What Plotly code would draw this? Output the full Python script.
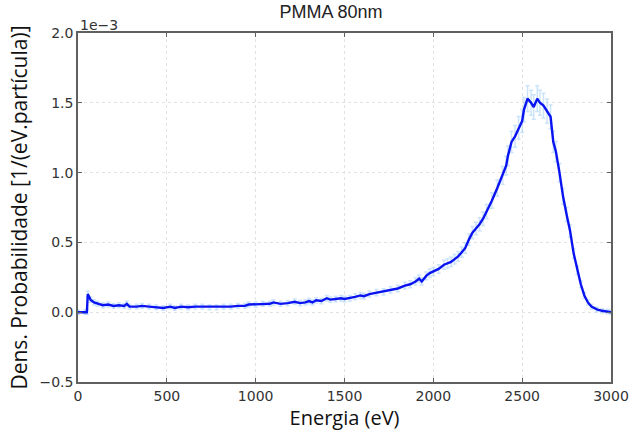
import plotly.graph_objects as go

energy = [0, 40, 50, 55, 70, 90, 110, 140, 170, 200, 230, 260, 275, 290, 330, 360, 400, 440, 480, 520,
          545, 580, 620, 660, 700, 740, 780, 820, 860, 900, 940, 960, 1000, 1040, 1080, 1100, 1140, 1180,
          1220, 1250, 1280, 1300, 1320, 1340, 1370, 1400, 1420, 1450, 1480, 1500, 1530, 1560, 1590, 1610,
          1640, 1680, 1720, 1760, 1800, 1840, 1870, 1900, 1920, 1935, 1960, 1980, 2000, 2030, 2060, 2080,
          2100, 2120, 2140, 2160, 2180, 2200, 2220, 2240, 2260, 2280, 2300, 2330, 2360, 2390, 2410, 2420,
          2440, 2460, 2480, 2500, 2510, 2530, 2550, 2565, 2585, 2600, 2620, 2640, 2660, 2675, 2690, 2710,
          2730, 2750, 2770, 2790, 2810, 2830, 2850, 2870, 2890, 2920, 2950, 2980, 3000]
density = [0.0, 0.0, 0.0, 0.13, 0.09, 0.07, 0.06, 0.05, 0.055, 0.045, 0.05, 0.045, 0.06, 0.04, 0.04, 0.045,
           0.04, 0.035, 0.03, 0.04, 0.03, 0.04, 0.035, 0.04, 0.04, 0.035, 0.035, 0.04, 0.04, 0.045, 0.045,
           0.055, 0.055, 0.06, 0.06, 0.07, 0.06, 0.065, 0.075, 0.065, 0.07, 0.08, 0.07, 0.085, 0.08, 0.10,
           0.09, 0.095, 0.10, 0.095, 0.10, 0.11, 0.12, 0.115, 0.13, 0.14, 0.145, 0.16, 0.17, 0.19, 0.20,
           0.22, 0.24, 0.22, 0.26, 0.28, 0.29, 0.31, 0.34, 0.35, 0.36, 0.38, 0.40, 0.43, 0.46, 0.52, 0.57,
           0.60, 0.63, 0.67, 0.72, 0.80, 0.89, 0.98, 1.05, 1.12, 1.22, 1.26, 1.32, 1.37, 1.45, 1.53, 1.50,
           1.47, 1.53, 1.50, 1.48, 1.44, 1.40, 1.22, 1.15, 1.00, 0.83, 0.70, 0.58, 0.42, 0.30, 0.20, 0.12,
           0.07, 0.04, 0.02, 0.01, 0.005, 0.0]

x_ticks = [0, 500, 1000, 1500, 2000, 2500, 3000]
y_ticks = [-0.5, 0.0, 0.5, 1.0, 1.5, 2.0]

# statistical uncertainty (approximate, grows with the count density)
density_err = [0.015 + 0.05 * d for d in density]

fig = go.Figure()
fig.add_trace(go.Scatter(
    x=energy, y=density, mode="lines",
    line=dict(color="#0a14f0", width=2.4),
    error_y=dict(type="data", array=density_err, color="rgba(160,205,245,0.55)", thickness=1.5, width=2),
    showlegend=False,
))

axis_common = dict(
    showline=True, linecolor="#606060", linewidth=1.5, mirror="ticks",
    ticks="inside", ticklen=4, tickcolor="#606060",
    showgrid=True, gridcolor="#e2e2e2", griddash="dot", gridwidth=1,
    zeroline=False, automargin=False,
    tickfont=dict(family="DejaVu Sans", size=14, color="#333333"),
)

fig.update_layout(
    width=633, height=433,
    margin=dict(l=78, r=22, t=33, b=51),
    paper_bgcolor="white", plot_bgcolor="white",
    title=dict(text="PMMA 80nm", x=0.523, xanchor="center", y=0.972, yanchor="middle",
               font=dict(family="Liberation Sans", size=18, color="#222222")),
    xaxis=dict(range=[0, 3000], tickvals=x_ticks, ticktext=[str(v) for v in x_ticks],
               title=dict(text="Energia (eV)", standoff=4,
                          font=dict(family="Open Sans", size=20, color="#111111")),
               **axis_common),
    yaxis=dict(range=[-0.5, 2.0], tickvals=y_ticks, tickformat=".1f",
               title=dict(text="Dens. Probabilidade [1/(eV.partícula)]", standoff=6,
                          font=dict(family="Open Sans", size=21, color="#111111")),
               **axis_common),
)

fig.add_annotation(text="1e\u22123", xref="paper", yref="paper", x=0.0, y=1.0,
                   xanchor="left", yanchor="bottom", showarrow=False, yshift=-2,
                   font=dict(family="DejaVu Sans", size=14, color="#333333"))

fig.write_html("out.html")
